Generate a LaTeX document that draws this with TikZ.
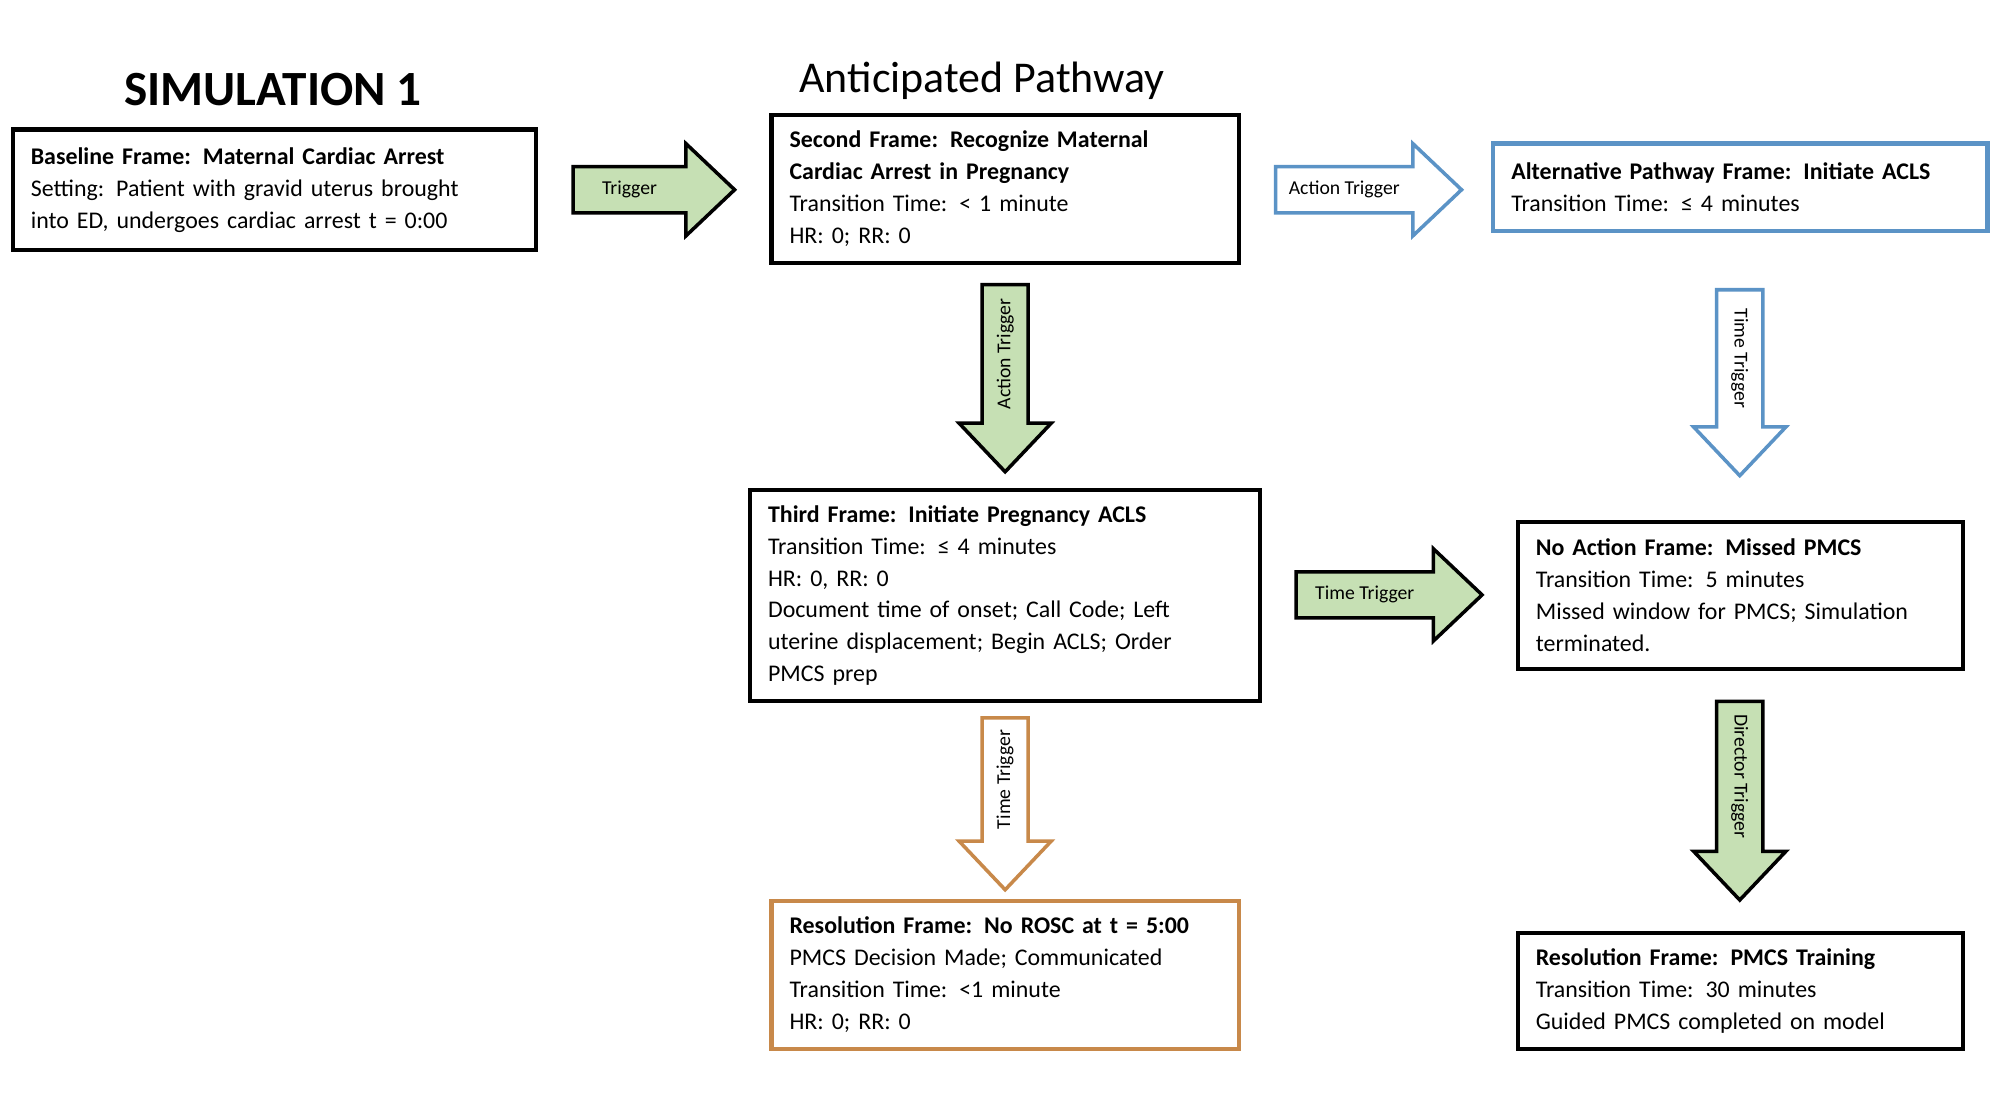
\documentclass[tikz,border=0pt]{standalone}
\usepackage{fontspec}
\setmainfont{Carlito}
\definecolor{arrowgreen}{HTML}{C6E0B4}
\definecolor{frameblue}{HTML}{5B93C6}
\definecolor{frameorange}{HTML}{C8894A}
\tikzset{
  frame/.style={draw, line width=1.2pt, align=left, inner xsep=0.18cm, inner ysep=0pt, font=\fontsize{6.8}{9.1}\selectfont},
  lbl/.style={font=\fontsize{5.6}{6.5}\selectfont},
}
% block arrow: fill, draw, start, length, angle, label, label angle
\newcommand{\blockarrow}[7]{%
  \begin{scope}[shift={#3}, rotate=#5]
    \draw[fill=#1, draw=#2, line width=1pt] (0,-18) -- (#4-38,-18) -- (#4-38,-36) -- (#4,0)
      -- (#4-38,36) -- (#4-38,18) -- (0,18) -- cycle;
    \node[lbl, rotate=#7] at ({(#4-38)/2},0) {#6};
  \end{scope}}
\begin{document}
\begin{tikzpicture}[x=0.01282cm, y=-0.01282cm]
\useasboundingbox (0,0) rectangle (1560,863.5);

\node[font=\fontsize{14}{16}\selectfont\bfseries] (title) at (213,70) {SIMULATION 1};
\node[font=\fontsize{12.5}{15}\selectfont] (path) at (766,63) {Anticipated Pathway};

\node[frame, text width=4.87cm, minimum height=1.205cm] (base) at (214,148) {%
\textbf{Baseline Frame: Maternal Cardiac Arrest}\\
Setting: Patient with gravid uterus brought\\
into ED, undergoes cardiac arrest t = 0:00};

\node[frame, text width=4.31cm, minimum height=1.474cm] (second) at (784,147.5) {%
\textbf{Second Frame: Recognize Maternal}\\
\textbf{Cardiac Arrest in Pregnancy}\\
Transition Time: < 1 minute\\
HR: 0; RR: 0};

\node[frame, draw=frameblue, text width=4.58cm, minimum height=0.872cm] (alt) at (1357.5,146) {%
\textbf{Alternative Pathway Frame: Initiate ACLS}\\
Transition Time: ≤ 4 minutes};

\node[frame, text width=4.74cm, minimum height=2.115cm] (third) at (784,464.5) {%
\textbf{Third Frame: Initiate Pregnancy ACLS}\\
Transition Time: ≤ 4 minutes\\
HR: 0, RR: 0\\
Document time of onset; Call Code; Left\\
uterine displacement; Begin ACLS; Order\\
PMCS prep};

\node[frame, text width=4.09cm, minimum height=1.474cm] (noaction) at (1357.5,464.5) {%
\textbf{No Action Frame: Missed PMCS}\\
Transition Time: 5 minutes\\
Missed window for PMCS; Simulation\\
terminated.};

\node[frame, draw=frameorange, text width=4.31cm, minimum height=1.474cm] (res1) at (784,760.5) {%
\textbf{Resolution Frame: No ROSC at t = 5:00}\\
PMCS Decision Made; Communicated\\
Transition Time: <1 minute\\
HR: 0; RR: 0};

\node[frame, text width=4.09cm, minimum height=1.154cm] (res2) at (1357.5,773) {%
\textbf{Resolution Frame: PMCS Training}\\
Transition Time: 30 minutes\\
Guided PMCS completed on model};

\blockarrow{arrowgreen}{black}{(447,148)}{126}{0}{Trigger}{0}
\blockarrow{white}{frameblue}{(995,148)}{145}{0}{Action Trigger}{0}
\blockarrow{arrowgreen}{black}{(1011,464)}{145}{0}{Time Trigger}{0}
\blockarrow{arrowgreen}{black}{(784,222)}{146}{-90}{Action Trigger}{90}
\blockarrow{white}{frameblue}{(1357,226)}{145}{-90}{Time Trigger}{-90}
\blockarrow{white}{frameorange}{(784,560)}{134}{-90}{Time Trigger}{90}
\blockarrow{arrowgreen}{black}{(1357,547)}{155}{-90}{Director Trigger}{-90}
\end{tikzpicture}
\end{document}
